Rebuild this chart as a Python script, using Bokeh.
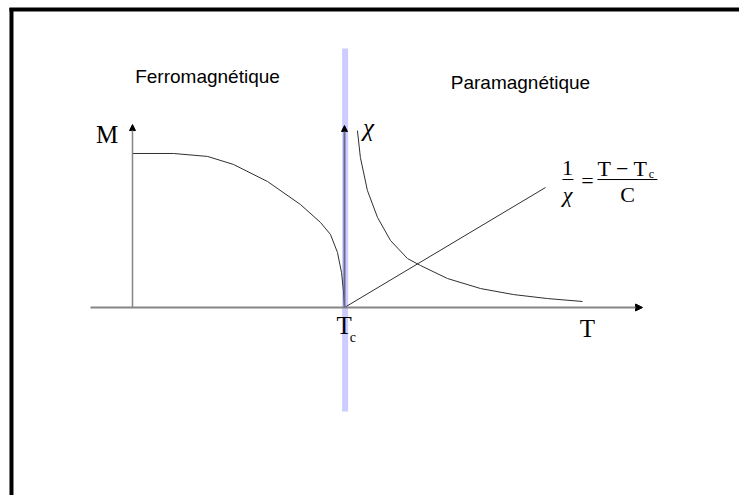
from bokeh.plotting import figure
from bokeh.models import Range1d, Arrow, NormalHead, Label
from bokeh.embed import file_html
from bokeh.resources import INLINE

# ---- data (reduced units: T/Tc on x, M/Ms on y) ----
m_T = [0.0, 0.193, 0.354, 0.476, 0.637, 0.792, 0.887, 0.934, 0.967, 0.986, 0.995, 1.0]
m_M = [1.0, 1.0, 0.981, 0.929, 0.818, 0.669, 0.552, 0.474, 0.357, 0.227, 0.110, 0.0]

chi_T = [1.061, 1.075, 1.108, 1.156, 1.217, 1.297, 1.358, 1.486, 1.642, 1.797, 1.958, 2.123]
chi_v = [1.149, 0.974, 0.760, 0.584, 0.435, 0.318, 0.273, 0.188, 0.123, 0.084, 0.058, 0.039]

inv_T = [1.0, 1.948]
inv_v = [0.0, 0.779]

Tc = 1.0
T_axis = [-0.198, 2.406]
M_axis_top = 1.188
chi_axis_top = 1.182
band_v = [-0.675, 1.682]

SERIF = "Liberation Serif"
SANS = "Liberation Sans"

p = figure(width=739, height=495,
           x_range=Range1d(-0.6226, 2.8632), y_range=Range1d(-1.2208, 1.9935),
           x_axis_type=None, y_axis_type=None, min_border=0,
           output_backend="svg", toolbar_location=None)
p.outline_line_color = None
p.background_fill_color = "white"
p.border_fill_color = "white"

# slide frame (left and top edges)
p.segment(x0=[-0.5708, -0.5805], y0=[-1.2208, 1.9350],
          x1=[-0.5708, 2.8632], y1=[1.9448, 1.9350],
          line_color="black", line_width=4, line_cap="butt")

# Curie temperature band
p.line([Tc + 0.003, Tc + 0.003], band_v, line_color="#ccccff", line_width=6)

# axes
axis_col = "#858585"
p.add_layout(Arrow(end=NormalHead(size=7, fill_color="black", line_color="black"),
                   x_start=T_axis[0], y_start=0, x_end=T_axis[1], y_end=0,
                   line_color=axis_col, line_width=2))
p.add_layout(Arrow(end=NormalHead(size=6, fill_color="black", line_color="black"),
                   x_start=0, y_start=0, x_end=0, y_end=M_axis_top,
                   line_color=axis_col, line_width=1.5))
p.add_layout(Arrow(end=NormalHead(size=6, fill_color="black", line_color="black"),
                   x_start=Tc, y_start=0, x_end=Tc, y_end=chi_axis_top,
                   line_color="#6a6a90", line_width=2))

# curves
p.line(m_T, m_M, line_color="#303030", line_width=1)
p.line(chi_T, chi_v, line_color="#303030", line_width=1)
p.line(inv_T, inv_v, line_color="#303030", line_width=1)

def lab(x, y, text, font, size, align="center", style="normal"):
    p.add_layout(Label(x=x, y=y, text=text, text_font=font, text_font_size=size,
                       text_font_style=style,
                       text_align=align, text_baseline="middle", text_color="black"))

lab(0.354, 1.50, "Ferromagnétique", SANS, "19px")
lab(1.830, 1.461, "Paramagnétique", SANS, "19px")

lab(-0.120, 1.123, "M", SERIF, "25px")
lab(1.113, 1.169, "χ", SERIF, "25px", style="italic")
lab(2.146, -0.136, "T", SERIF, "25px")
lab(0.998, -0.117, "T", SERIF, "25px")
lab(1.040, -0.195, "c", SERIF, "14px")

# Curie law 1/chi = (T - Tc)/C
lab(2.052, 0.903, "1", SERIF, "22px")
lab(2.052, 0.735, "χ", SERIF, "22px", style="italic")
lab(2.146, 0.825, "=", SERIF, "22px")
lab(2.193, 0.903, "T − T", SERIF, "22px", align="left")
lab(2.435, 0.868, "c", SERIF, "12px", align="left")
lab(2.335, 0.735, "C", SERIF, "22px")
p.line([2.028, 2.080], [0.831, 0.831], line_color="black", line_width=1)
p.line([2.193, 2.476], [0.831, 0.831], line_color="black", line_width=1)

open("out.html", "w").write(file_html(p, INLINE))
